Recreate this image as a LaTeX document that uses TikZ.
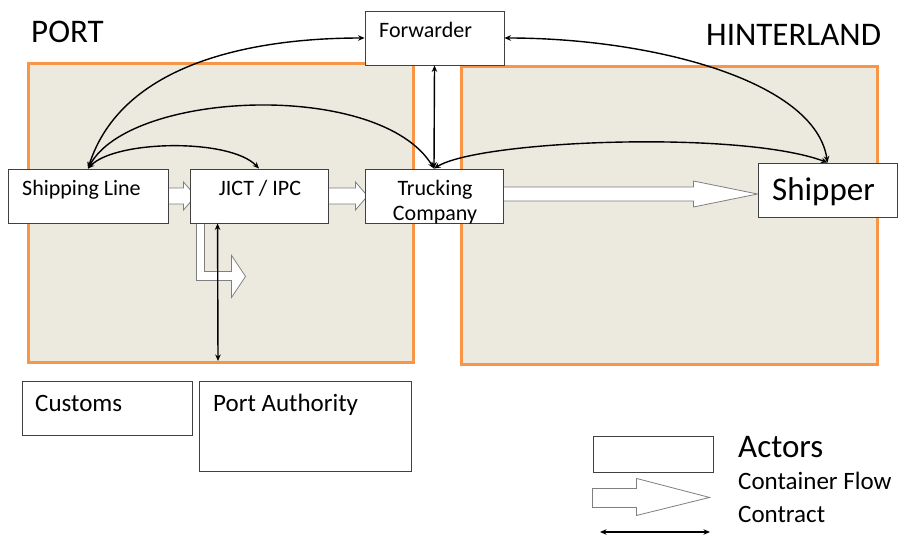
\documentclass[tikz,border=0pt]{standalone}
\usepackage{fontspec}
\setmainfont{Carlito}
\usetikzlibrary{arrows.meta,calc}
\definecolor{regorange}{HTML}{F79646}
\definecolor{regfill}{HTML}{ECE9DF}
\definecolor{boxline}{HTML}{404040}
\definecolor{flowline}{HTML}{7F7F7F}
\tikzset{
  region/.style={draw=regorange, line width=3pt, fill=regfill},
  actor/.style={draw=boxline, line width=0.9pt, fill=white, inner sep=0pt, rectangle},
  flow/.style={draw=flowline, line width=0.8pt, fill=white, line join=miter},
  contract/.style={black, line width=1.4pt, {Stealth[length=6.5pt,width=5.5pt]}-{Stealth[length=6.5pt,width=5.5pt]}},
  txt/.style={inner sep=0pt, anchor=base west, font=\fontsize{22}{26}\selectfont},
  txtm/.style={inner sep=0pt, anchor=base west, font=\fontsize{25}{30}\selectfont},
  txtl/.style={inner sep=0pt, anchor=base west, font=\fontsize{33}{40}\selectfont},
}
\begin{document}
\begin{tikzpicture}[x=1pt,y=-1pt]
\useasboundingbox[fill=white] (0,0) rectangle (898,535);
% regions
\draw[region] (28,64) rectangle (413,362);
\draw[region] (461,67) rectangle (877,364);
\node[txtl] (port) at (31,43) {PORT};
\node[txtl] (hint) at (706,46) {HINTERLAND};
% actor boxes (positions)
\node[actor, minimum width=139pt, minimum height=54pt] (fwd) at (434.5,38) {};
\node[actor, minimum width=160pt, minimum height=54pt] (sl) at (88,196) {};
\node[actor, minimum width=138pt, minimum height=54pt] (jict) at (259,196) {};
\node[actor, minimum width=138pt, minimum height=54pt] (truck) at (434,196) {};
\node[actor, minimum width=139pt, minimum height=54pt] (ship) at (827.5,190) {};
\node[actor, minimum width=170pt, minimum height=54pt] (cust) at (107,408) {};
\node[actor, minimum width=212pt, minimum height=90pt] (pa) at (305,426) {};
\node[actor, minimum width=120pt, minimum height=36pt] (legbox) at (653,454) {};
% container flows
\draw[flow] ($(sl.east)+(0,-8)$) -- ++(15,0) -- ++(0,-6) -- ($(jict.west)+(6,0)$) -- ($(sl.east)+(15,14)$) -- ++(0,-6) -- ($(sl.east)+(0,8)$);
\draw[flow] ($(jict.east)+(0,-8)$) -- ++(27,0) -- ++(0,-6) -- ($(truck.west)+(3,0)$) -- ($(jict.east)+(27,14)$) -- ++(0,-6) -- ($(jict.east)+(0,8)$);
\draw[flow] ($(truck.east)+(0,-9)$) -- ++(190,0) -- ++(0,-6) -- ($(ship.west)+(0,4)$) -- ($(truck.east)+(190,11)$) -- ++(0,-6) -- ($(truck.east)+(0,5)$);
\draw[flow] ($(jict.south west)+(7,0)$) -- ++(0,57) -- ++(35,0) -- ++(0,17) -- ++(14,-21) -- ++(-14,-21) -- ++(0,16) -- ++(-27,0) -- ($(jict.south west)+(15,0)$);
% redraw boxes on top of flow arrows
\node[actor, minimum width=160pt, minimum height=54pt] (slb) at (sl) {};
\node[actor, minimum width=138pt, minimum height=54pt] (jictb) at (jict) {};
\node[actor, minimum width=138pt, minimum height=54pt] (truckb) at (truck) {};
\node[actor, minimum width=139pt, minimum height=54pt] (shipb) at (ship) {};
% texts
\node[txt] (fwdt) at (379,38) {Forwarder};
\node[txt] (slt) at (22,195) {Shipping Line};
\node[txt, anchor=base] (jictt) at (260,195) {JICT / IPC};
\node[txt, anchor=base] (truckt) at (435,195) {Trucking};
\node[txt, anchor=base] (truckc) at (435,220) {Company};
\node[txtl] (shipt) at (772,200) {Shipper};
\node[txtm] (custt) at (35,411) {Customs};
\node[txtm] (pat) at (213,411) {Port Authority};
% contracts
\draw[contract] (sl.north) .. controls (122,62) and (255,38) .. (fwd.west);
\draw[contract] (sl.north) .. controls (130,90) and (380,80) .. (truck.north);
\draw[contract] (sl.north) .. controls (115,140) and (230,138) .. (jict.north);
\draw[contract] (fwd.south) -- (truck.north);
\draw[contract] (fwd.east) .. controls (650,38) and (815,80) .. (ship.north);
\draw[contract] (truck.north) .. controls (480,140) and (740,130) .. (ship.north);
\coordinate (jb) at ($(jict.south west)+(28,0)$);
\coordinate (pb) at (218,361);
\draw[contract] (jb) -- (pb);
% legend
\node[txtl] (actt) at (738,457) {Actors};
\draw[flow] ($(legbox.south west)+(0,16)$) -- ++(44,0) -- ++(0,-10) -- ++(73,19) -- ++(-73,18) -- ++(0,-8) -- ++(-44,0) -- cycle;
\node[txtm] (cft) at (738,489) {Container Flow};
\node[txtm] (ctt) at (738,522) {Contract};
\coordinate (lc1) at (600,532);
\coordinate (lc2) at (710,532);
\draw[contract] (lc1) -- (lc2);
\end{tikzpicture}
\end{document}
